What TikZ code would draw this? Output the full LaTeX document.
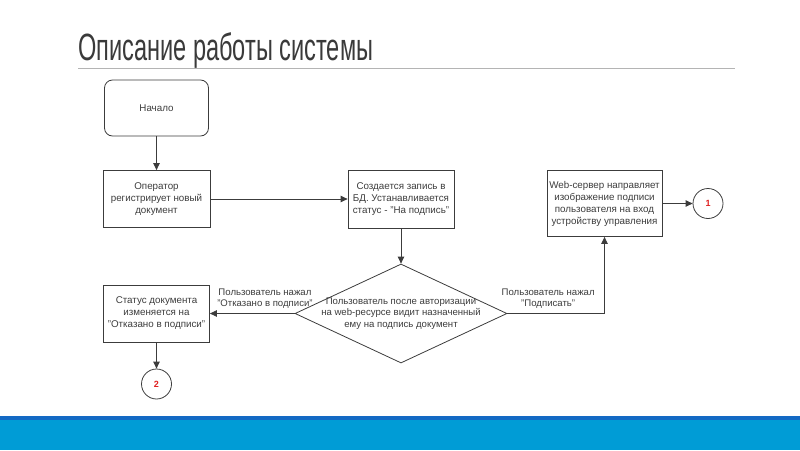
\documentclass[tikz,border=0pt]{standalone}
\usepackage{fontspec}
\usepackage{graphicx}
\setmainfont{Liberation Sans}
\usetikzlibrary{shapes.geometric,arrows.meta}

\definecolor{titlegray}{HTML}{3A3A3A}
\definecolor{rulegray}{HTML}{B4B4B4}
\definecolor{linegray}{HTML}{3C3C3C}
\definecolor{bardark}{HTML}{1369C4}
\definecolor{barcyan}{HTML}{009CD6}
\definecolor{numred}{HTML}{E02020}

\tikzset{
  block/.style={draw=linegray, line width=0.8pt, align=center, text=linegray,
    font=\fontsize{9.8}{12}\selectfont, inner sep=0pt},
  startblock/.style={block, rounded corners=8pt},
  decision/.style={diamond, draw=linegray, line width=0.8pt, inner sep=0pt,
    minimum width=212pt, minimum height=99pt},
  connector/.style={circle, draw=linegray, line width=0.8pt, minimum size=30pt,
    inner sep=0pt, text=numred, font=\fontsize{9}{10}\selectfont\bfseries},
  edgetext/.style={align=center, text=linegray, font=\fontsize{9.6}{11.5}\selectfont},
  flow/.style={draw=linegray, line width=0.9pt, -{Triangle[length=7pt,width=6.5pt]}}
}

\begin{document}
\begin{tikzpicture}[x=1pt,y=-1pt]

  \useasboundingbox (0,0) rectangle (800,450);

  % title and frame
  \node[anchor=base west, inner sep=0pt, text=titlegray,
    font=\fontsize{38}{40}\selectfont] (title) at (78,60)
    {\scalebox{0.62}[1]{Описание работы системы}};
  \draw[rulegray, line width=1pt] (78,68) -- (735,68);
  \fill[barcyan] (0,420) rectangle (800,450);
  \fill[bardark] (0,415.5) rectangle (800,420);

  \begin{scope}
    \node[startblock, minimum width=104pt, minimum height=56pt] (start) at (156.5,108) {Начало};
    \node[block, minimum width=107pt, minimum height=57pt] (oper) at (156.5,199)
      {Оператор\\регистрирует новый\\документ};
    \node[block, minimum width=106pt, minimum height=58pt] (record) at (401,199)
      {Создается запись в\\БД. Устанавливается\\статус - "На подпись"};
    \node[block, minimum width=115pt, minimum height=66pt] (server) at (604.5,203.5)
      {Web-сервер направляет\\изображение подписи\\пользователя на вход\\устройству управления};
    \node[decision, label={[edgetext]center:Пользователь после авторизации\\на web-ресурсе видит назначенный\\ему на подпись документ}]
      (check) at (401,313.5) {};
    \node[block, minimum width=106pt, minimum height=57pt] (refused) at (156.5,313.5)
      {Статус документа\\изменяется на\\"Отказано в подписи"};
    \node[connector] (one) at (708,203.5) {1};
    \node[connector] (two) at (156.5,384) {2};
  \end{scope}

  \path[flow] (start) -- (oper);
  \path[flow] (oper) -- (record);
  \path[flow] (record) -- (check);
  \path[flow] (check.west) -- node[edgetext, above=1pt, pos=0.35] {Пользователь нажал\\"Отказано в подписи"} (refused);
  \path[flow] (check.east) -- node[edgetext, above=1pt, pos=0.42] {Пользователь нажал\\"Подписать"} (check.east -| server.south) -- (server.south);
  \path[flow] (server) -- (one);
  \path[flow] (refused) -- (two);

\end{tikzpicture}
\end{document}
